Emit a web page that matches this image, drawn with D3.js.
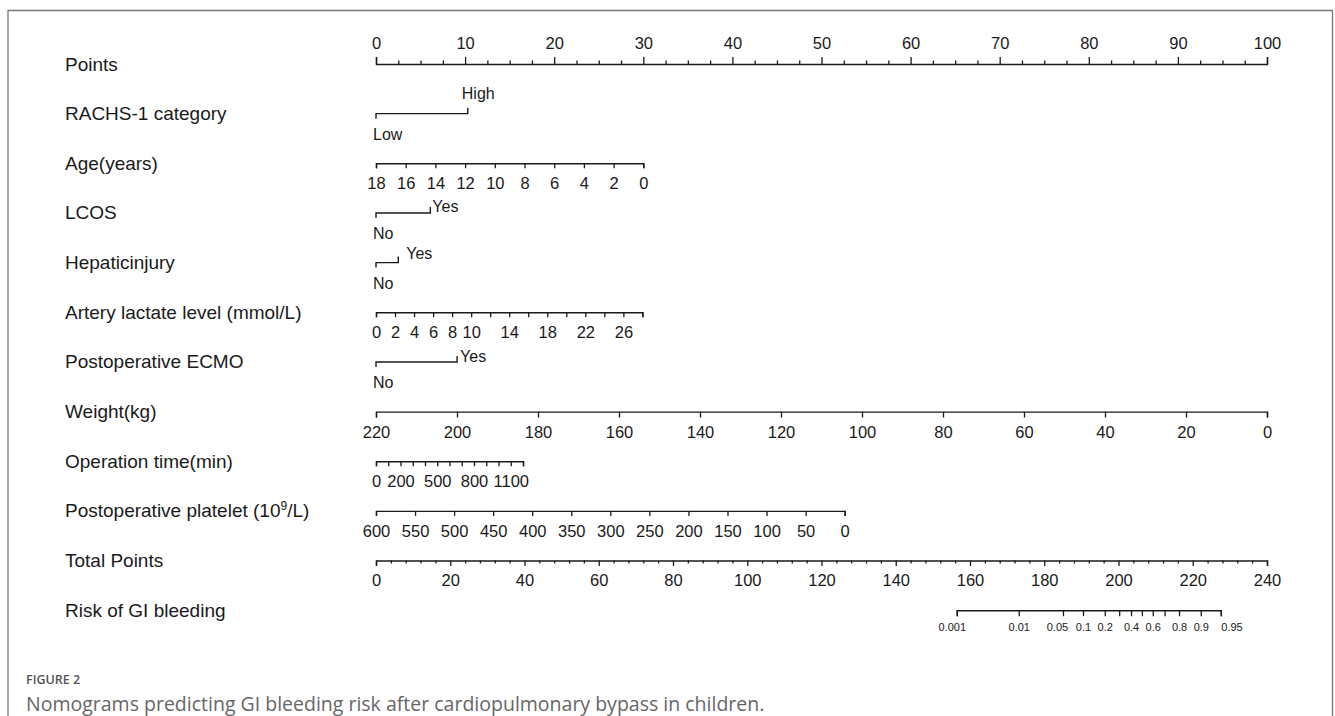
<!DOCTYPE html>
<html><head><meta charset="utf-8">
<script src="https://cdn.jsdelivr.net/npm/d3@7"></script>
<style>
body{margin:0;background:#fff;}
svg{display:block;}
</style></head>
<body>
<svg id="chart" width="1335" height="716"></svg>
<script>
// ---------------- data ----------------
const rowLabels = ["Points","RACHS-1 category","Age(years)","LCOS","Hepaticinjury",
  "Artery lactate level (mmol/L)","Postoperative ECMO","Weight(kg)","Operation time(min)",
  "Postoperative platelet (10^9/L)","Total Points","Risk of GI bleeding"];

const pointsTicks = [0,10,20,30,40,50,60,70,80,90,100];
const pointsMinorTicks = d3.range(0, 100.01, 2.5);

const rachsLevels = ["Low","High"];
const rachsPoints = [0, 10.3];
const lcosLevels = ["No","Yes"];
const lcosPoints = [0, 6.1];
const hepaticLevels = ["No","Yes"];
const hepaticPoints = [0, 2.5];
const ecmoLevels = ["No","Yes"];
const ecmoPoints = [0, 9.1];

const ageDomain = [18, 0];
const agePoints = [0, 30];
const ageTicks = [18,16,14,12,10,8,6,4,2,0];

const lactateDomain = [0, 28];
const lactatePoints = [0, 29.9];
const lactateTicks = [0,2,4,6,8,10,12,14,16,18,20,22,24,26,28];
const lactateLabels = [0,2,4,6,8,10,14,18,22,26];

const weightDomain = [220, 0];
const weightPoints = [0, 100];
const weightTicks = [220,200,180,160,140,120,100,80,60,40,20,0];

const opTimeDomain = [0, 1200];
const opTimePoints = [0, 16.5];
const opTimeTicks = [0,100,200,300,400,500,600,700,800,900,1000,1100,1200];
const opTimeLabels = [0,200,500,800,1100];

const plateletDomain = [600, 0];
const plateletPoints = [0, 52.6];
const plateletTicks = [600,550,500,450,400,350,300,250,200,150,100,50,0];

const totalDomain = [0, 240];
const totalTicks = [0,20,40,60,80,100,120,140,160,180,200,220,240];
const totalMinorTicks = d3.range(0, 240.01, 4);

const riskTicks = [0.001,0.01,0.05,0.1,0.2,0.3,0.4,0.5,0.6,0.7,0.8,0.9,0.95];
const riskLabels = [0.001,0.01,0.05,0.1,0.2,0.4,0.6,0.8,0.9,0.95];
const riskTotalAtHalf = 206.3;   // total points where risk = 0.5
const riskPointsPerLogit = 7.22; // total points per unit of log-odds

// ---------------- layout ----------------
const W = 1335, H = 716;
const svg = d3.select("#chart");
const FONT = "'Liberation Sans', Arial, Helvetica, sans-serif";
const INK = "#1a1a1a";
const TICK_FS = 16.5;
const xPts = d3.scaleLinear().domain([0,100]).range([376, 1267]);
const xTot = d3.scaleLinear().domain(totalDomain).range([376, 1267]);
const rowY = d3.scaleLinear().domain([0, 11]).range([64, 610.2]);

// frame
svg.append("path")
  .attr("d", `M8,${H} V10.5 H1332.5 V${H}`)
  .attr("fill","none").attr("stroke","#777").attr("stroke-width",1.3);

// row labels
rowLabels.forEach((lab, i) => {
  const t = svg.append("text").attr("x", 65).attr("y", rowY(i) + 6.5)
    .attr("font-family", FONT).attr("font-size", 19).attr("fill", INK);
  if (lab.includes("^")) {
    const m = lab.match(/^(.*)\^(\d+)(.*)$/);
    t.append("tspan").text(m[1]);
    t.append("tspan").text(m[2]).attr("font-size", 12).attr("dy", -7.5);
    t.append("tspan").text(m[3]).attr("dy", 7.5);
  } else t.text(lab);
});

function styleAxis(g, fs) {
  g.selectAll("path.domain").attr("stroke", INK).attr("stroke-width", 1.4);
  g.selectAll(".tick line").attr("stroke", INK).attr("stroke-width", 1.3);
  g.selectAll(".tick text").attr("font-family", FONT).attr("font-size", fs).attr("fill", INK);
}

function numAxis(row, scale, ticks, labels, opts = {}) {
  const y = rowY(row);
  const top = !!opts.top;
  const fmt = opts.fmt || (d => d);
  const ax = (top ? d3.axisTop(scale) : d3.axisBottom(scale))
    .tickValues(ticks).tickSizeOuter(0)
    .tickSize(opts.tickSize || 6).tickPadding(opts.pad || 9)
    .tickFormat(d => (labels ? (labels.includes(d) ? fmt(d) : "") : fmt(d)));
  const g = svg.append("g").attr("transform", `translate(0,${y})`).call(ax);
  styleAxis(g, opts.fs || TICK_FS);
  if (opts.minor) {
    const mg = svg.append("g").attr("transform", `translate(0,${y})`)
      .call((top ? d3.axisTop(scale) : d3.axisBottom(scale))
        .tickValues(opts.minor.filter(v => !ticks.includes(v))).tickSize(opts.minorSize || 3).tickFormat(""));
    mg.select("path.domain").remove();
    styleAxis(mg, 10);
  }
  return g;
}

function varScale(domain, pts) {
  return d3.scaleLinear().domain(domain).range(pts.map(xPts));
}

// Points
numAxis(0, xPts, pointsTicks, null, {top:true, tickSize:7, pad:8, minor:pointsMinorTicks, minorSize:3.5});

// binary variables
function binary(row, levels, pts, lay) {
  const y = rowY(row);
  const x0 = xPts(pts[0]), x1 = xPts(pts[1]);
  svg.append("path")
    .attr("d", `M${x0},${y+5} V${y} H${x1} V${y-6}`)
    .attr("fill","none").attr("stroke", INK).attr("stroke-width", 1.4);
  svg.append("text").attr("x", x0 + lay.lowDx).attr("y", y + lay.lowDy)
    .attr("font-family", FONT).attr("font-size", 16).attr("fill", INK).text(levels[0]);
  svg.append("text").attr("x", x1 + lay.highDx).attr("y", y + lay.highDy)
    .attr("font-family", FONT).attr("font-size", 16).attr("fill", INK).text(levels[1]);
}
binary(1, rachsLevels, rachsPoints, {lowDx:-3, lowDy:26, highDx:-6, highDy:-15});
binary(3, lcosLevels, lcosPoints, {lowDx:-3, lowDy:26, highDx:2, highDy:-1});
binary(4, hepaticLevels, hepaticPoints, {lowDx:-3, lowDy:26, highDx:8, highDy:-4});
binary(6, ecmoLevels, ecmoPoints, {lowDx:-3, lowDy:26, highDx:3, highDy:0});

// continuous variables
numAxis(2, varScale(ageDomain, agePoints), ageTicks, null, {tickSize:5});
numAxis(5, varScale(lactateDomain, lactatePoints), lactateTicks, lactateLabels, {tickSize:5});
numAxis(7, varScale(weightDomain, weightPoints), weightTicks, null, {tickSize:6});
numAxis(8, varScale(opTimeDomain, opTimePoints), opTimeTicks, opTimeLabels, {tickSize:5});
numAxis(9, varScale(plateletDomain, plateletPoints), plateletTicks, null, {tickSize:5});

// Total points
numAxis(10, xTot, totalTicks, null, {tickSize:5.5, pad:8.5, minor:totalMinorTicks, minorSize:3});

// Risk
const logit = p => Math.log(p / (1 - p));
const riskScale = d3.scaleLinear()
  .domain([logit(riskTicks[0]), logit(riskTicks[riskTicks.length-1])])
  .range([riskTicks[0], riskTicks[riskTicks.length-1]]
    .map(p => xTot(riskTotalAtHalf + riskPointsPerLogit * logit(p))));
const riskAxisScale = p => riskScale(logit(p));
riskAxisScale.copy = () => riskAxisScale;
riskAxisScale.range = () => riskScale.range();
riskAxisScale.domain = () => riskTicks;
const rg = numAxis(11, riskAxisScale, riskTicks, riskLabels, {tickSize:6, pad:7.5, fs:11, fmt: d => String(d)});
rg.selectAll(".tick text").filter(d => d === 0.001).attr("dx", -5);
rg.selectAll(".tick text").filter(d => d === 0.05).attr("dx", -6);
rg.selectAll(".tick text").filter(d => d === 0.95).attr("text-anchor", "start").attr("dx", 0);

// caption
svg.append("text").attr("x", 26).attr("y", 684)
  .attr("font-family", "'Open Sans', 'Noto Sans', sans-serif").attr("font-size", 12.5)
  .attr("font-weight", 600).attr("fill", "#555").text("FIGURE 2");
svg.append("text").attr("x", 26).attr("y", 711)
  .attr("font-family", "'Open Sans', 'Noto Sans', sans-serif").attr("font-size", 19.5)
  .attr("fill", "#666")
  .text("Nomograms predicting GI bleeding risk after cardiopulmonary bypass in children.");
</script>
</body></html>
